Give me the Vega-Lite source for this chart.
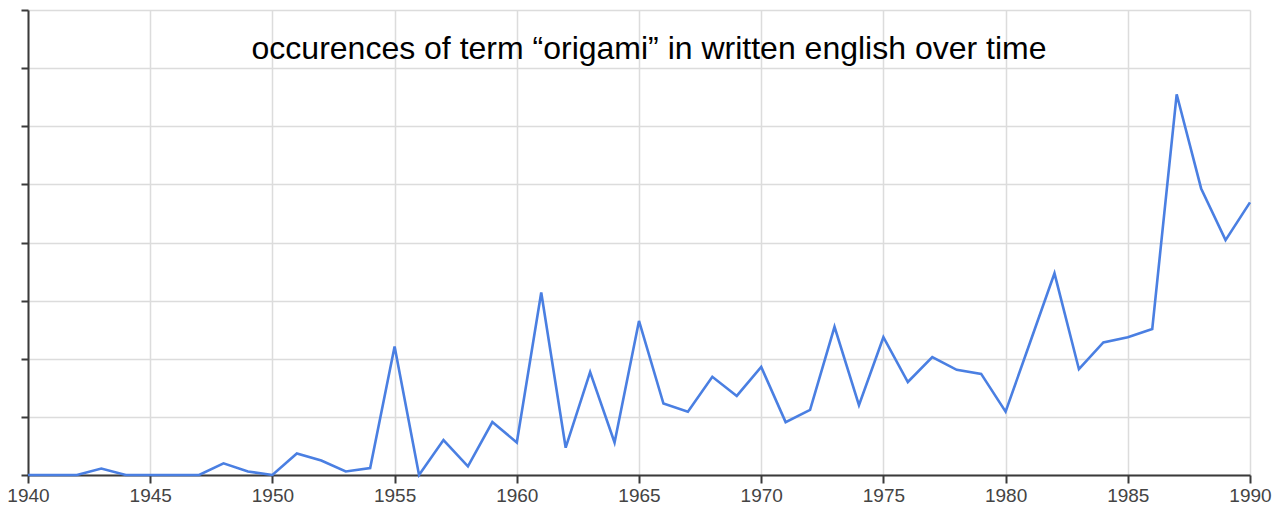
{
  "$schema": "https://vega.github.io/schema/vega-lite/v6.json",
  "width": 1222,
  "height": 465,
  "autosize": {"type": "none"},
  "padding": {"left": 28, "top": 10, "right": 34, "bottom": 33},
  "background": "white",
  "title": {
    "text": "occurences of term “origami” in written english over time",
    "font": "Liberation Sans",
    "fontSize": 32,
    "fontWeight": "normal",
    "color": "#000000",
    "anchor": "middle",
    "orient": "top",
    "baseline": "alphabetic",
    "offset": -82,
    "dx": 10
  },
  "config": {
    "view": {"stroke": null},
    "axis": {"gridColor": "#dcdcdc", "gridWidth": 1.5}
  },
  "data": {
    "values": [
      {"year": 1940, "value": 0},
      {"year": 1941, "value": 0},
      {"year": 1942, "value": 0},
      {"year": 1943, "value": 0.11},
      {"year": 1944, "value": 0},
      {"year": 1945, "value": 0},
      {"year": 1946, "value": 0},
      {"year": 1947, "value": 0},
      {"year": 1948, "value": 0.2},
      {"year": 1949, "value": 0.06},
      {"year": 1950, "value": 0},
      {"year": 1951, "value": 0.37},
      {"year": 1952, "value": 0.25},
      {"year": 1953, "value": 0.06},
      {"year": 1954, "value": 0.12},
      {"year": 1955, "value": 2.21},
      {"year": 1956, "value": 0},
      {"year": 1957, "value": 0.6},
      {"year": 1958, "value": 0.15},
      {"year": 1959, "value": 0.91},
      {"year": 1960, "value": 0.56},
      {"year": 1961, "value": 3.14},
      {"year": 1962, "value": 0.47},
      {"year": 1963, "value": 1.77},
      {"year": 1964, "value": 0.56},
      {"year": 1965, "value": 2.65},
      {"year": 1966, "value": 1.23},
      {"year": 1967, "value": 1.09},
      {"year": 1968, "value": 1.69},
      {"year": 1969, "value": 1.36},
      {"year": 1970, "value": 1.86},
      {"year": 1971, "value": 0.91},
      {"year": 1972, "value": 1.12},
      {"year": 1973, "value": 2.55},
      {"year": 1974, "value": 1.2},
      {"year": 1975, "value": 2.37},
      {"year": 1976, "value": 1.6},
      {"year": 1977, "value": 2.03},
      {"year": 1978, "value": 1.81},
      {"year": 1979, "value": 1.74},
      {"year": 1980, "value": 1.09},
      {"year": 1981, "value": 2.28},
      {"year": 1982, "value": 3.47},
      {"year": 1983, "value": 1.82},
      {"year": 1984, "value": 2.28},
      {"year": 1985, "value": 2.37},
      {"year": 1986, "value": 2.51},
      {"year": 1987, "value": 6.55},
      {"year": 1988, "value": 4.93},
      {"year": 1989, "value": 4.04},
      {"year": 1990, "value": 4.69}
    ]
  },
  "mark": {"type": "line", "color": "#4a7fe2", "strokeWidth": 2.6, "interpolate": "linear"},
  "encoding": {
    "x": {
      "field": "year",
      "type": "quantitative",
      "scale": {"domain": [1940, 1990], "nice": false, "zero": false},
      "axis": {
        "title": null,
        "values": [1940, 1945, 1950, 1955, 1960, 1965, 1970, 1975, 1980, 1985, 1990],
        "format": "d",
        "grid": true,
        "domainColor": "#3a3a3a",
        "domainWidth": 2,
        "tickColor": "#3a3a3a",
        "tickWidth": 2,
        "tickSize": 8,
        "labelPadding": 3,
        "labelFont": "Liberation Sans",
        "labelFontSize": 19,
        "labelColor": "#444444",
        "labelFlush": false,
        "labelOverlap": false
      }
    },
    "y": {
      "field": "value",
      "type": "quantitative",
      "scale": {"domain": [0, 8], "nice": false},
      "axis": {
        "title": null,
        "values": [0, 1, 2, 3, 4, 5, 6, 7, 8],
        "labels": false,
        "grid": true,
        "domainColor": "#3a3a3a",
        "domainWidth": 2,
        "tickColor": "#3a3a3a",
        "tickWidth": 2,
        "tickSize": 7
      }
    }
  }
}
